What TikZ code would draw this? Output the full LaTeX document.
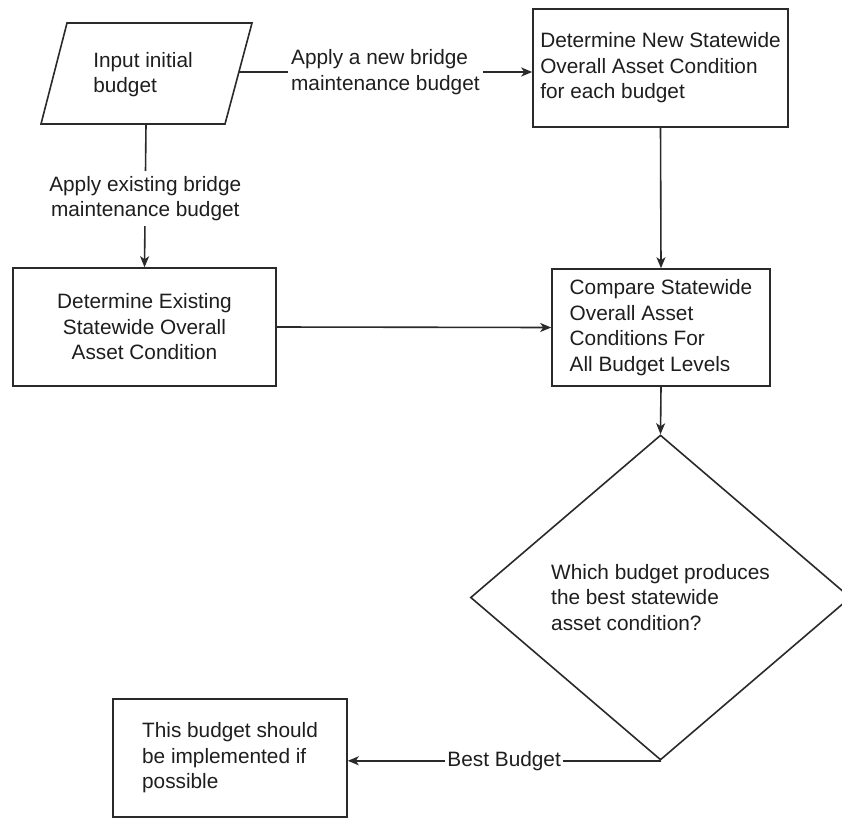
\documentclass[tikz,border=0pt]{standalone}
\usepackage{fontspec}
\setmainfont{Liberation Sans}
\usetikzlibrary{shapes.geometric,arrows.meta}
\definecolor{linec}{HTML}{2A2A2A}
\definecolor{txtc}{HTML}{1E1E1E}
\newcommand{\dgfont}{\fontsize{20.8}{25.5}\selectfont}
\begin{document}
\begin{tikzpicture}[x=1pt,y=-1pt,
  ln/.style={draw=linec, line width=1.6pt},
  box/.style={ln, rectangle, inner sep=0pt, font=\dgfont, text=txtc},
  txt/.style={inner sep=0pt, font=\dgfont, text=txtc},
  lbl/.style={fill=white, inner sep=3pt, font=\dgfont, text=txtc},
  arr/.style={ln, -{Stealth[length=11pt,width=9pt,inset=3pt]}}
]
\useasboundingbox (0,0) rectangle (842,819);
\clip (0,0) rectangle (842,819);
\fill[white] (0,0) rectangle (842,819);

% input parallelogram
\draw[ln] (67,23) -- (252,23) -- (225,124) -- (41,124) -- cycle;
\node[txt, align=left] (inp) at (143,74.5) {Input initial\\budget};
\coordinate (inpR) at (238.6,72);
\coordinate (inpB) at (146,124);

% boxes
\node[box, minimum width=255, minimum height=118, align=left] (newb) at (660.5,68)
  {Determine New Statewide\\Overall Asset Condition\\for each budget};
\node[box, minimum width=263, minimum height=118, align=center] (exb) at (144.5,327)
  {Determine Existing\\Statewide Overall\\Asset Condition};
\node[box, minimum width=218, minimum height=117, align=left] (cmp) at (661,327.5)
  {Compare Statewide\\Overall Asset\\Conditions For\\All Budget Levels};
\node[ln, diamond, minimum width=380, minimum height=325, inner sep=0pt,
  font=\dgfont, text=txtc, align=left] (dia) at (660.5,597.5)
  {Which budget produces\\the best statewide\\asset condition?};
\node[box, minimum width=234, minimum height=118, align=left] (best) at (230,758)
  {This budget should\\be implemented if\\possible};

% connectors
\draw[arr] (inpR) -- node[lbl, align=left] {Apply a new bridge\\maintenance budget} (inpR -| newb.west);
\draw[arr] (inpB) -- node[lbl, align=center, inner sep=5pt, yshift=-3pt] {Apply existing bridge\\maintenance budget} (exb.north);
\draw[arr] (newb.south) -- (cmp.north);
\draw[arr] (exb.east) -- (cmp.west);
\draw[arr] (cmp.south) -- (dia.north);
\draw[arr] (dia.south) -- node[lbl, inner sep=2pt] {Best Budget} (dia.south -| best.east);
\end{tikzpicture}
\end{document}
